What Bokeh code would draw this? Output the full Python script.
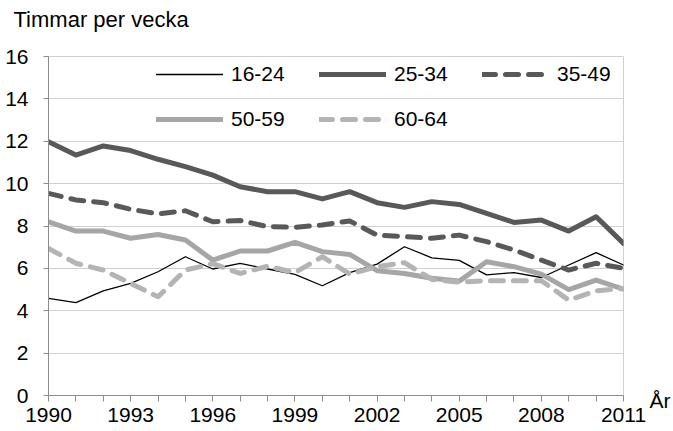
from bokeh.plotting import figure
from bokeh.models import Range1d, FixedTicker, LinearAxis
from bokeh.embed import file_html
from bokeh.resources import INLINE

years = list(range(1990, 2012))
age_16_24 = [4.58, 4.38, 4.94, 5.29, 5.84, 6.55, 5.97, 6.24, 5.97, 5.72, 5.18,
             5.80, 6.20, 7.02, 6.50, 6.38, 5.69, 5.80, 5.57, 6.16, 6.74, 6.16]
age_25_34 = [11.98, 11.35, 11.78, 11.56, 11.15, 10.80, 10.40, 9.85, 9.62, 9.62, 9.28,
             9.62, 9.10, 8.88, 9.15, 9.02, 8.60, 8.17, 8.28, 7.76, 8.44, 7.18]
age_35_49 = [9.54, 9.23, 9.10, 8.79, 8.57, 8.72, 8.20, 8.26, 7.97, 7.94, 8.05,
             8.24, 7.57, 7.50, 7.42, 7.57, 7.26, 6.87, 6.39, 5.92, 6.24, 6.00]
age_50_59 = [8.20, 7.76, 7.76, 7.42, 7.60, 7.34, 6.39, 6.82, 6.82, 7.23, 6.79,
             6.66, 5.89, 5.76, 5.53, 5.40, 6.31, 6.08, 5.73, 5.00, 5.45, 5.02]
age_60_64 = [6.94, 6.24, 5.92, 5.29, 4.66, 5.92, 6.22, 5.76, 6.10, 5.80, 6.55,
             5.73, 6.08, 6.27, 5.48, 5.35, 5.42, 5.42, 5.42, 4.50, 4.94, 5.05]
series_names = ["16-24", "25-34", "35-49", "50-59", "60-64"]
x_tick_labels = ["1990", "1993", "1996", "1999", "2002", "2005", "2008", "2011"]
y_ticks = [0, 2, 4, 6, 8, 10, 12, 14, 16]
y_title = "Timmar per vecka"
x_title = "År"

FONT = "Liberation Sans"

p = figure(width=673, height=431, output_backend="svg", toolbar_location=None,
           x_range=Range1d(1990, 2011), y_range=Range1d(0, 16),
           min_border_left=48, min_border_right=49, min_border_top=56,
           min_border_bottom=36)

styles = [
    dict(line_color="#000000", line_width=1.3, line_dash="solid"),
    dict(line_color="#595959", line_width=5, line_dash="solid"),
    dict(line_color="#595959", line_width=5, line_dash="13 10"),
    dict(line_color="#a6a6a6", line_width=5, line_dash="solid"),
    dict(line_color="#b4b4b4", line_width=5, line_dash="13 10"),
]
all_series = [age_16_24, age_25_34, age_35_49, age_50_59, age_60_64]
for name, vals, st in zip(series_names, all_series, styles):
    p.line(years, vals, legend_label=name, line_cap="round", line_join="round", **st)

# axes
p.xaxis.ticker = FixedTicker(ticks=years)
p.xaxis.major_label_overrides = {y: (str(y) if str(y) in x_tick_labels else "") for y in years}
p.yaxis.ticker = FixedTicker(ticks=y_ticks)
for ax in (p.xaxis[0], p.yaxis[0]):
    ax.axis_line_color = "#8c8c8c"
    ax.axis_line_width = 1
    ax.major_tick_line_color = "#8c8c8c"
    ax.major_tick_in = 0
    ax.minor_tick_line_color = None
    ax.major_label_text_font = FONT
    ax.major_label_text_font_size = "21px"
    ax.major_label_text_color = "#000000"
p.xaxis.major_tick_out = 6
p.xaxis.major_label_standoff = 6
p.yaxis.major_tick_out = 5
p.yaxis.major_label_standoff = 15

# unit label for the x axis, placed at the right end of the axis
unit_axis = LinearAxis(ticker=FixedTicker(ticks=[0]),
                       major_label_overrides={0: "\n" + x_title},
                       axis_line_color=None, major_tick_line_color=None,
                       minor_tick_line_color=None, major_tick_in=0, major_tick_out=0,
                       major_label_standoff=26, major_label_text_font=FONT,
                       major_label_text_font_size="21px",
                       major_label_text_line_height=0.4,
                       major_label_text_color="#000000")
p.add_layout(unit_axis, "right")

p.xgrid.grid_line_color = None
p.ygrid.grid_line_color = "#d0d0d0"
p.ygrid.grid_line_width = 1
p.outline_line_color = "#d0d0d0"
p.background_fill_color = "white"
p.border_fill_color = "white"

# title (y unit) - trailing empty line lifts it to the top of the border
p.title.text = y_title + "\n"
p.title.align = "left"
p.title.offset = -35
p.title.standoff = 0
p.title.text_font = FONT
p.title.text_font_size = "22px"
p.title.text_font_style = "normal"
p.title.text_color = "#000000"

leg = p.legend[0]
leg.orientation = "horizontal"
leg.ncols = 3
leg.location = (108, 264)
leg.padding = 0
leg.margin = 0
leg.spacing = 21
leg.glyph_width = 67
leg.glyph_height = 20
leg.label_height = 20
leg.label_width = 67
leg.label_standoff = 8
leg.label_text_font = FONT
leg.label_text_font_size = "21px"
leg.label_text_color = "#000000"
leg.border_line_alpha = 0
leg.background_fill_alpha = 0

open("out.html", "w").write(file_html(p, INLINE))
